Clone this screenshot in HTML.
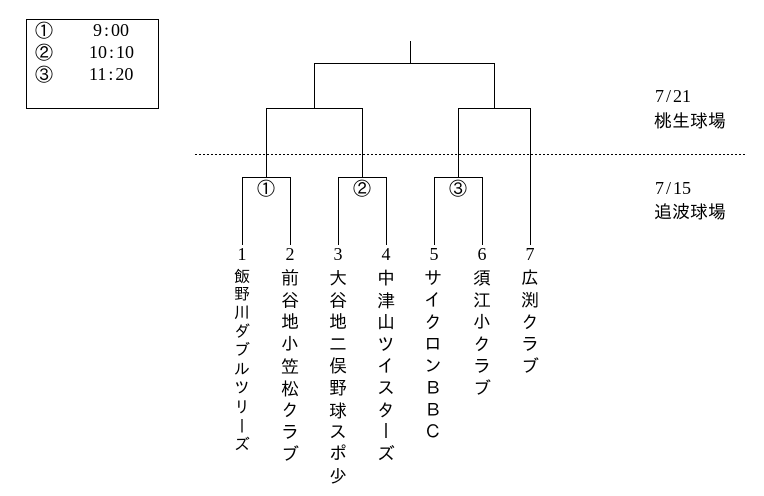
<!DOCTYPE html>
<html lang="ja">
<head>
<meta charset="utf-8">
<style>
html,body{margin:0;padding:0;background:#fff;}
#p{position:relative;width:764px;height:496px;overflow:hidden;background:#fff;color:#000;font-family:"Liberation Sans","IPAGothic","Noto Sans CJK JP",sans-serif;}
svg{position:absolute;left:0;top:0;}
.v{position:absolute;writing-mode:vertical-rl;text-orientation:upright;font-family:"IPAGothic","Noto Sans CJK JP",sans-serif;font-size:18px;line-height:18px;width:18px;letter-spacing:4px;white-space:nowrap;top:268px;}
.n{position:absolute;top:245px;width:20px;text-align:center;font-family:"Liberation Serif",serif;font-size:18px;line-height:18px;}
.t{position:absolute;font-family:"Liberation Serif",serif;font-size:18px;line-height:18px;white-space:nowrap;}
.t span{display:inline-block;width:9px;text-align:center;}
.j{position:absolute;font-family:"IPAGothic","Noto Sans CJK JP",sans-serif;font-size:18px;line-height:18px;white-space:nowrap;}
.c{position:absolute;font-family:"IPAGothic","Noto Sans CJK JP",sans-serif;font-size:18px;line-height:18px;width:18px;text-align:center;}
</style>
</head>
<body>
<div id="p">
<svg width="764" height="496" viewBox="0 0 764 496" fill="none" stroke="#000" stroke-width="1" shape-rendering="crispEdges">
<rect x="26.5" y="19.5" width="132" height="89"/>
<path d="M410.5 41V63.5M314.5 63.5H494.5M314.5 63V108.5M494.5 63V108.5M266.5 108.5H362.5M458.5 108.5H530.5M266.5 108V177.5M362.5 108V177.5M458.5 108V177.5M530.5 108V245"/>
<path d="M242.5 245V177.5H290.5V245M338.5 245V177.5H386.5V245M434.5 245V177.5H482.5V245"/>
<line x1="195" y1="154.5" x2="746" y2="154.5" stroke-dasharray="2 2"/>
</svg>

<div class="c" style="left:35px;top:22px">①</div>
<div class="c" style="left:35px;top:44px">②</div>
<div class="c" style="left:35px;top:66px">③</div>
<div class="t" style="left:93px;top:21px">9<span>:</span>00</div>
<div class="t" style="left:89px;top:43px">10<span>:</span>10</div>
<div class="t" style="left:89px;top:65px">11<span>:</span>20</div>

<div class="c" style="left:257px;top:180px">①</div>
<div class="c" style="left:353px;top:180px">②</div>
<div class="c" style="left:449px;top:180px">③</div>

<div class="t" style="left:655px;top:87px">7<span>/</span>21</div>
<div class="j" style="left:654px;top:112px">桃生球場</div>
<div class="t" style="left:655px;top:179px">7<span>/</span>15</div>
<div class="j" style="left:654px;top:203px">追波球場</div>

<div class="n" style="left:232px">1</div>
<div class="n" style="left:280px">2</div>
<div class="n" style="left:328px">3</div>
<div class="n" style="left:376px">4</div>
<div class="n" style="left:424px">5</div>
<div class="n" style="left:472px">6</div>
<div class="n" style="left:520px">7</div>

<div class="v" style="left:234px;top:266px;font-size:16px;line-height:16px;width:16px;letter-spacing:2.8px">飯野川ダブルツリーズ</div>
<div class="v" style="left:281px">前谷地小笠松クラブ</div>
<div class="v" style="left:329px">大谷地二俣野球スポ少</div>
<div class="v" style="left:377px">中津山ツイスターズ</div>
<div class="v" style="left:424px">サイクロンＢＢＣ</div>
<div class="v" style="left:473px">須江小クラブ</div>
<div class="v" style="left:521px">広渕クラブ</div>
</div>
</body>
</html>
